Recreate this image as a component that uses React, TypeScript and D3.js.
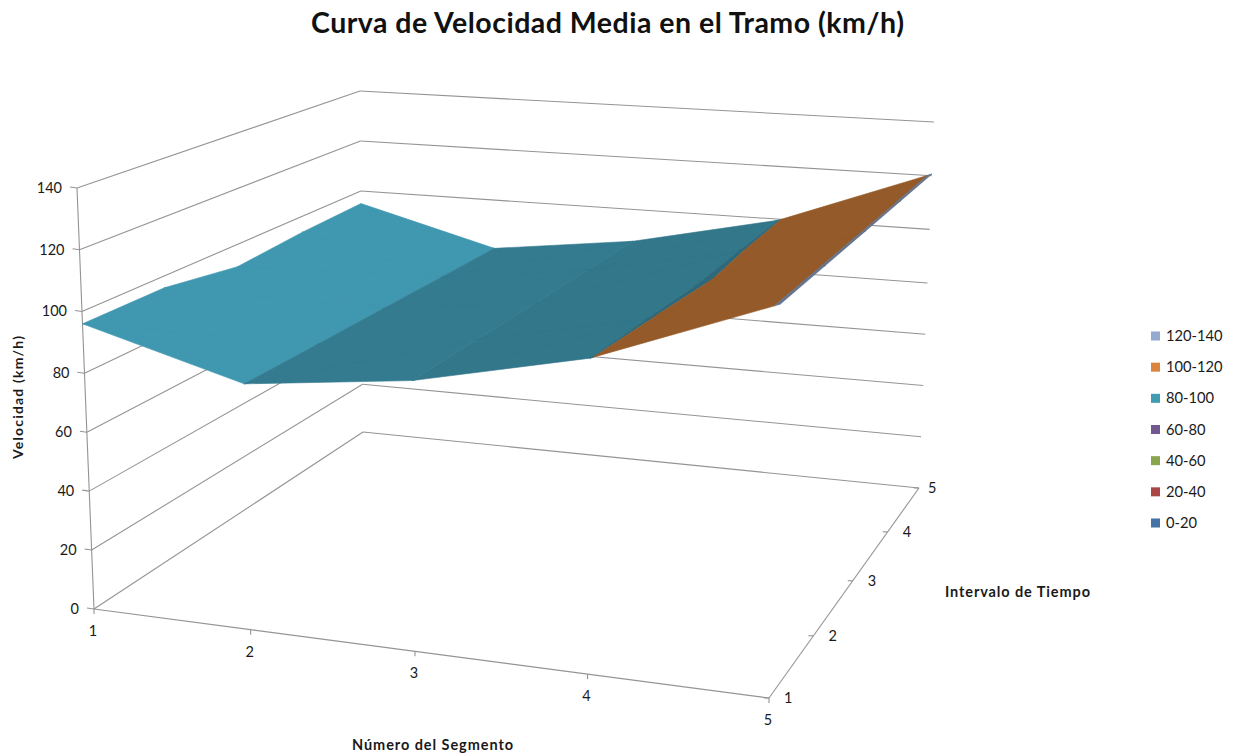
import React from "react";
import * as d3 from "d3";

const segments = [1, 2, 3, 4, 5];
const intervals = [1, 2, 3, 4, 5];
const valueTicks = [0, 20, 40, 60, 80, 100, 120, 140];
const speedT1 = [96, 81.6, 87.7, 99.6, 120.6];
const speedT2 = [96, 81.4, 87.7, 98.9, 120.6];
const speedT3 = [92, 81.3, 87.7, 98, 120.6];
const speedT4 = [94, 81.1, 87.7, 99, 120.6];
const speedT5 = [95, 81, 87.7, 99.6, 120.6];
const speedRows = [speedT1, speedT2, speedT3, speedT4, speedT5];
const bandNames = ["0-20", "20-40", "40-60", "60-80", "80-100", "100-120", "120-140"];
const bandColors = ["#4572a7", "#aa4643", "#89a54e", "#71588f", "#429bb5", "#db843d", "#93a9cf"];
const legendBands = [6, 5, 4, 3, 2, 1, 0];

type Pt = [number, number];
// perspective frame of the 3-D box: screen corners of the floor and of the ceiling
const floorQuad: Pt[] = [[94, 609], [769, 698], [919, 488], [363, 432]];
const ceilQuad: Pt[] = [[77, 188], [782, 239], [934, 122], [360, 91]];

function quadMap(q: Pt[]) {
  const [[x0, y0], [x1, y1], [x2, y2], [x3, y3]] = q;
  const dx1 = x1 - x2, dx2 = x3 - x2, sx = x0 - x1 + x2 - x3;
  const dy1 = y1 - y2, dy2 = y3 - y2, sy = y0 - y1 + y2 - y3;
  const den = dx1 * dy2 - dx2 * dy1;
  const g = (sx * dy2 - dx2 * sy) / den;
  const h = (dx1 * sy - sx * dy1) / den;
  const a = x1 - x0 + g * x1, b = x3 - x0 + h * x3;
  const d = y1 - y0 + g * y1, e = y3 - y0 + h * y3;
  return (u: number, v: number): Pt => {
    const w = g * u + h * v + 1;
    return [(a * u + b * v + x0) / w, (d * u + e * v + y0) / w];
  };
}
const floorAt = quadMap(floorQuad);
const ceilAt = quadMap(ceilQuad);
const uScale = d3.scaleLinear().domain([1, 5]).range([0, 1]);
const vScale = d3.scaleLinear().domain([1, 5]).range([0, 1]);
const hScale = d3.scaleLinear().domain([0, 80, 140]).range([0, 0.56, 1]);

function project(s: number, t: number, val: number): Pt {
  const f = floorAt(uScale(s), vScale(t));
  const c = ceilAt(uScale(s), vScale(t));
  const k = hScale(val);
  return [f[0] + (c[0] - f[0]) * k, f[1] + (c[1] - f[1]) * k];
}

type V3 = [number, number, number];
function clipBand(poly: V3[], lo: number, hi: number): V3[] {
  const clip = (pts: V3[], inside: (p: V3) => boolean, lim: number) => {
    const out: V3[] = [];
    pts.forEach((p, i) => {
      const q = pts[(i + 1) % pts.length];
      const pi = inside(p), qi = inside(q);
      if (pi) out.push(p);
      if (pi !== qi) {
        const r = (lim - p[2]) / (q[2] - p[2]);
        out.push([p[0] + (q[0] - p[0]) * r, p[1] + (q[1] - p[1]) * r, lim]);
      }
    });
    return out;
  };
  const a = clip(poly, (p) => p[2] >= lo, lo);
  return a.length ? clip(a, (p) => p[2] <= hi, hi) : [];
}
const shadeScale = d3.scaleLinear().domain([-16, 3, 10, 20]).range([1, 0.81, 0.78, 0.68]).clamp(true);
function shaded(hex: string, k: number) {
  const c = d3.rgb(hex);
  return d3.rgb(c.r * k, c.g * k, c.b * k).formatHex();
}

const line = d3.line<Pt>();
// all facets of one segment column and colour band share a path and a shade, so no seams show
const facets: { d: string; fill: string }[] = [];
for (let si = 0; si < segments.length - 1; si++) {
  const merged = new Map<string, string>();
  const k = shadeScale(d3.mean(speedRows, (row) => row[si + 1] - row[si])!);
  for (let ti = intervals.length - 2; ti >= 0; ti--) {
    const s0 = segments[si], s1 = segments[si + 1], t0 = intervals[ti], t1 = intervals[ti + 1];
    const A: V3 = [s0, t0, speedRows[ti][si]];
    const B: V3 = [s1, t0, speedRows[ti][si + 1]];
    const C: V3 = [s1, t1, speedRows[ti + 1][si + 1]];
    const D: V3 = [s0, t1, speedRows[ti + 1][si]];
    [[A, C, D], [A, B, C]].forEach((tri) => {
      bandColors.forEach((col, b) => {
        const poly = clipBand(tri as V3[], b * 20, (b + 1) * 20);
        if (poly.length < 3) return;
        const fill = shaded(col, k);
        const d = line(poly.map((p) => project(p[0], p[1], p[2])))! + "Z";
        merged.set(fill, (merged.get(fill) || "") + d);
      });
    });
  }
  merged.forEach((d, fill) => facets.push({ d, fill }));
}

const GRID = "#949494";
const FONT = "Lato, 'Open Sans', sans-serif";
const TXT = "#1a1a1a";

export default function App() {
  const s1 = segments[0], sN = segments[segments.length - 1];
  const t1 = intervals[0], tN = intervals[intervals.length - 1];
  const seg = (a: Pt, b: Pt, key: string) => (
    <line key={key} x1={a[0]} y1={a[1]} x2={b[0]} y2={b[1]} stroke={GRID} strokeWidth={1.1} />
  );
  return (
    <svg width={1234} height={753} style={{ position: "absolute", left: 0, top: 0, display: "block" }} fontFamily={FONT}>
      <rect width={1234} height={753} fill="#fff" />
      <text x={311} y={33} fontSize={28.5} fontWeight={700} fill="#111" textLength={593} lengthAdjust="spacing">
        Curva de Velocidad Media en el Tramo (km/h)
      </text>
      {valueTicks.map((v) => (
        <g key={v}>
          {seg(project(s1, t1, v), project(s1, tN, v), `l${v}`)}
          {seg(project(s1, tN, v), project(sN, tN, v), `b${v}`)}
          {(() => {
            const p = project(s1, t1, v);
            return (
              <>
                {seg([p[0] - 7, p[1] - 1], p, `t${v}`)}
                <text x={p[0] - 15} y={p[1] + 5} textAnchor="end" fontSize={14.5} fill={TXT}>{v}</text>
              </>
            );
          })()}
        </g>
      ))}
      {seg(project(s1, t1, 0), project(s1, t1, 140), "vaxis")}
      {seg(project(s1, t1, 0), project(sN, t1, 0), "saxis")}
      {seg(project(sN, t1, 0), project(sN, tN, 0), "taxis")}
      {segments.map((s) => {
        const p = project(s, t1, 0);
        return (
          <g key={s}>
            {seg(p, [p[0], p[1] + 5], `st${s}`)}
            <text x={p[0] - 1} y={p[1] + 27} textAnchor="middle" fontSize={14.5} fill={TXT}>{s}</text>
          </g>
        );
      })}
      {intervals.map((t) => {
        const p = project(sN, t, 0);
        const dx = t === tN ? 9 : 15;
        return (
          <g key={t}>
            {seg(p, [p[0] - 5, p[1]], `tt${t}`)}
            <text x={p[0] + dx} y={p[1] + 5} fontSize={14.5} fill={TXT}>{t}</text>
          </g>
        );
      })}
      {facets.map((f, i) => (
        <path key={i} d={f.d} fill={f.fill} stroke={f.fill} strokeWidth={0.6} strokeLinejoin="round" />
      ))}
      <text transform="translate(23,336) rotate(-90)" x={-123} fontSize={14} fontWeight={700} fill={TXT} textLength={123} lengthAdjust="spacing">
        Velocidad (km/h)
      </text>
      <text x={945} y={597} fontSize={14.5} fontWeight={700} fill={TXT} textLength={145} lengthAdjust="spacing">Intervalo de Tiempo</text>
      <text x={352} y={750} fontSize={14.5} fontWeight={700} fill={TXT} textLength={161} lengthAdjust="spacing">Número del Segmento</text>
      {legendBands.map((b, i) => {
        const y = d3.scaleLinear().domain([0, 6]).range([336, 523])(i);
        return (
          <g key={b}>
            <rect x={1151} y={y - 4.5} width={9} height={9} fill={bandColors[b]} />
            <text x={1166} y={y + 5} fontSize={14.7} fill={TXT}>{bandNames[b]}</text>
          </g>
        );
      })}
    </svg>
  );
}
